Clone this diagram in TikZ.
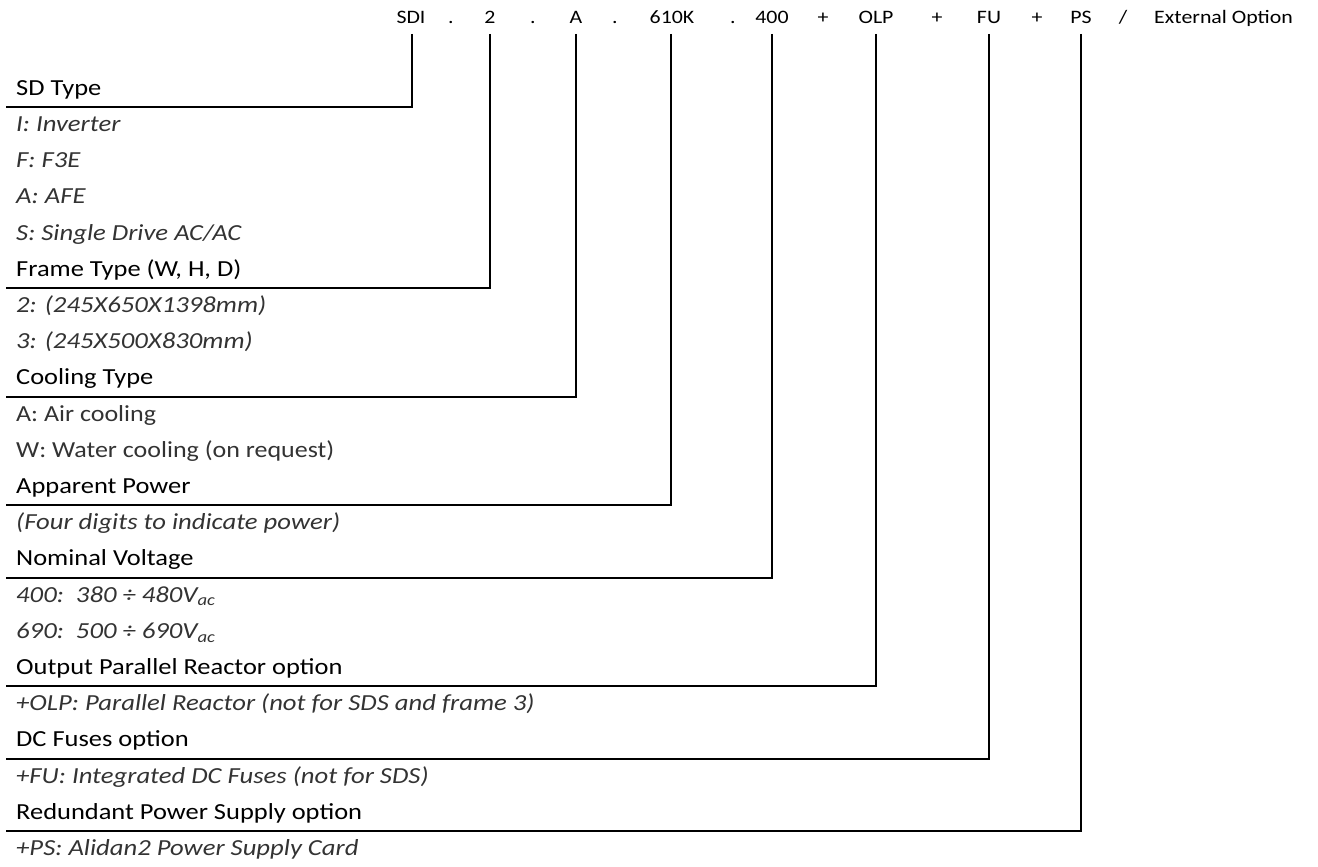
\documentclass[tikz,border=0pt]{standalone}
\usepackage{fontspec}
\setmainfont{Carlito}[FakeStretch=1.15]
\newfontfamily\topf{Carlito}[FakeStretch=1.15]
\newfontfamily\itemf{Carlito}[FakeStretch=1.13]
\newfontfamily\itemif{Carlito}[FakeStretch=1.16]
\begin{document}
\begin{tikzpicture}[x=1pt,y=-1pt,
  tok/.style={anchor=base,inner sep=0pt,font=\topf\fontsize{19}{22}\selectfont},
  head/.style={anchor=base west,inner sep=0pt,font=\fontsize{23}{27}\selectfont},
  itm/.style={anchor=base west,inner sep=0pt,text=black!80,font=\itemif\fontsize{23}{27}\selectfont\itshape},
  itmup/.style={anchor=base west,inner sep=0pt,text=black!80,font=\itemf\fontsize{23}{27}\selectfont},
  conn/.style={line width=2pt,line join=miter}]
\useasboundingbox (0,0) rectangle (1318,867);
% top code
\node[tok] (tSDI) at (411,24) {SDI};
\node[tok] (d1) at (451,24) {.};
\node[tok] (t2) at (490,24) {2};
\node[tok] (d2) at (533,24) {.};
\node[tok] (tA) at (576,24) {A};
\node[tok] (d3) at (615,24) {.};
\node[tok] (t610) at (672,24) {610K};
\node[tok] (d4) at (733,24) {.};
\node[tok] (t400) at (772,24) {400};
\node[tok] (p1) at (823,24) {+};
\node[tok] (tOLP) at (876,24) {OLP};
\node[tok] (p2) at (937,24) {+};
\node[tok] (tFU) at (989,24) {FU};
\node[tok] (p3) at (1037,24) {+};
\node[tok] (tPS) at (1081,24) {PS};
\node[tok] (sl) at (1123,24) {/};
\node[tok,anchor=base west] (ext) at (1154,24) {External Option};
% rows
\node[head] (hSD)  at (16,95.3) {SD Type};
\node[itm]  (i1)   at (16,131.5) {I: Inverter};
\node[itm]  (i2)   at (16,167.7) {F: F3E};
\node[itm]  (i3)   at (16,203.9) {A: AFE};
\node[itm]  (i4)   at (16,240.1) {S: Single Drive AC/AC};
\node[head] (hFR)  at (16,276.3) {Frame Type (W, H, D)};
\node[itm]  (i5)   at (16,312.5) {2: (245X650X1398mm)};
\node[itm]  (i6)   at (16,348.7) {3: (245X500X830mm)};
\node[head] (hCO)  at (16,384.9) {Cooling Type};
\node[itmup](i7)   at (16,421.1) {A: Air cooling};
\node[itmup](i8)   at (16,457.3) {W: Water cooling (on request)};
\node[head] (hAP)  at (16,493.5) {Apparent Power};
\node[itm]  (i9)   at (16,529.7) {(Four digits to indicate power)};
\node[head] (hNV)  at (16,565.9) {Nominal Voltage};
\node[itm]  (i10)  at (16,602.1) {400:\ \ 380 ÷ 480V\textsubscript{ac}};
\node[itm]  (i11)  at (16,638.3) {690:\ \ 500 ÷ 690V\textsubscript{ac}};
\node[head] (hOL)  at (16,674.5) {Output Parallel Reactor option};
\node[itm]  (i12)  at (16,710.7) {+OLP: Parallel Reactor (not for SDS and frame 3)};
\node[head] (hDC)  at (16,746.9) {DC Fuses option};
\node[itm]  (i13)  at (16,783.1) {+FU: Integrated DC Fuses (not for SDS)};
\node[head] (hRP)  at (16,819.3) {Redundant Power Supply option};
\node[itm]  (i14)  at (16,855.5) {+PS: Alidan2 Power Supply Card};
% connector ends
\coordinate (cSDI) at (412,34);
\coordinate (c2)   at (490,34);
\coordinate (cA)   at (576,34);
\coordinate (c610) at (671,34);
\coordinate (c400) at (772,34);
\coordinate (cOLP) at (876,34);
\coordinate (cFU)  at (989,34);
\coordinate (cPS)  at (1081,34);
\coordinate (lSD) at (6,107);
\coordinate (lFR) at (6,288);
\coordinate (lCO) at (6,396.6);
\coordinate (lAP) at (6,505.2);
\coordinate (lNV) at (6,577.6);
\coordinate (lOL) at (6,686.2);
\coordinate (lDC) at (6,758.6);
\coordinate (lRP) at (6,831);
\draw[conn] (cSDI) |- (lSD);
\draw[conn] (c2) |- (lFR);
\draw[conn] (cA) |- (lCO);
\draw[conn] (c610) |- (lAP);
\draw[conn] (c400) |- (lNV);
\draw[conn] (cOLP) |- (lOL);
\draw[conn] (cFU) |- (lDC);
\draw[conn] (cPS) |- (lRP);
\end{tikzpicture}
\end{document}
